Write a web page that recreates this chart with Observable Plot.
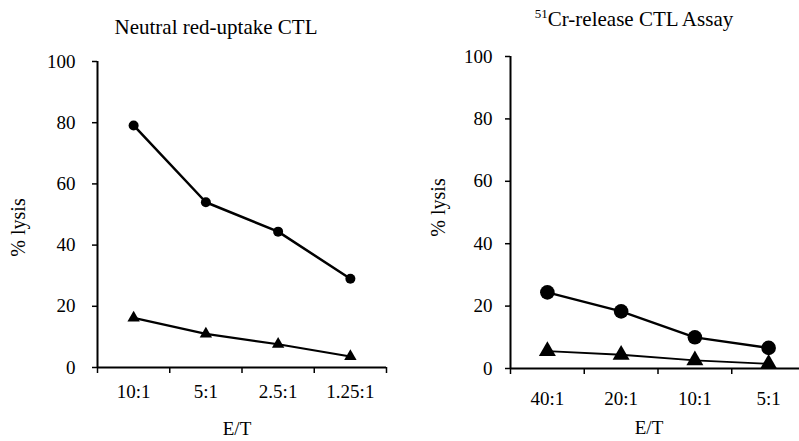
<!DOCTYPE html>
<html>
<head>
<meta charset="utf-8">
<script src="https://cdn.jsdelivr.net/npm/d3@7"></script>
<script src="https://cdn.jsdelivr.net/npm/@observablehq/plot@0.6"></script>
<style>
  body { margin: 0; background: #fff; }
  #wrap { position: relative; width: 799px; height: 441px; overflow: hidden;
          font-family: "Liberation Serif", "Times New Roman", serif; color: #000; background: #fff; }
  .panel { position: absolute; top: 0; }
  .panel svg { max-width: none !important; display: block; }
  .title { position: absolute; font-size: 21px; line-height: 21px; white-space: nowrap;
           transform: translateX(-50%); }
  .sup { font-size: 13px; position: relative; top: -8px; }
</style>
</head>
<body>
<div id="wrap">
  <div class="panel" id="left" style="left:0px; width:400px"></div>
  <div class="panel" id="right" style="left:400px; width:410px"></div>
  <div class="title" id="t1" style="left:216px; top:17px"></div>
  <div class="title" id="t2" style="left:634px; top:9px"></div>
</div>
<script>
// ---- data ----
const leftTitle = "Neutral red-uptake CTL";
const rightTitleSup = "51";
const rightTitle = "Cr-release CTL Assay";
const xLabel = "E/T";
const yLabel = "% lysis";
const yTicks = [0, 20, 40, 60, 80, 100];

const leftRatios = ["10:1", "5:1", "2.5:1", "1.25:1"];
const leftCircles = [79.1, 54.0, 44.4, 29.0];
const leftTriangles = [16.2, 11.0, 7.6, 3.6];

const rightRatios = ["40:1", "20:1", "10:1", "5:1"];
const rightCircles = [24.4, 18.3, 10.0, 6.6];
const rightTriangles = [5.6, 4.4, 2.6, 1.5];

const SERIF = "Liberation Serif, Times New Roman, serif";

document.getElementById("t1").textContent = leftTitle;
const t2 = document.getElementById("t2");
const sup = document.createElement("span");
sup.className = "sup";
sup.textContent = rightTitleSup;
t2.appendChild(sup);
t2.appendChild(document.createTextNode(rightTitle));

function panel(ratios, circles, triangles, L) {
  const n = ratios.length;
  const circ = ratios.map((r, i) => ({pos: i + 0.5, value: circles[i]}));
  const tri = ratios.map((r, i) => ({pos: i + 0.5, value: triangles[i]}));
  const edges = d3.range(n + 1);
  const centers = d3.range(n).map(i => i + 0.5);
  const svg = Plot.plot({
    width: L.width,
    height: 441,
    marginLeft: L.marginLeft,
    marginRight: L.marginRight,
    marginTop: L.marginTop,
    marginBottom: L.marginBottom,
    style: {fontFamily: SERIF, fontSize: "19px", color: "#000", background: "transparent", overflow: "visible"},
    x: {type: "linear", domain: [0, n]},
    y: {domain: [0, 100]},
    marks: [
      Plot.axisY({ticks: yTicks, tickSize: 5, tickPadding: L.yPad, label: null, fontSize: 19, fontFamily: SERIF, strokeWidth: 1.5}),
      Plot.axisX({ticks: edges, tickSize: 6, tickFormat: () => "", label: null, strokeWidth: 1.5}),
      Plot.axisX({ticks: centers, tickSize: 0, tickPadding: L.xPad, tickFormat: d => ratios[Math.floor(d)], label: null, fontSize: 19, fontFamily: SERIF}),
      Plot.ruleX([0], {stroke: "#000", strokeWidth: 2}),
      Plot.ruleY([0], {stroke: "#000", strokeWidth: 2}),
      Plot.text([xLabel], {frameAnchor: "bottom", lineAnchor: "middle", textAnchor: "middle", dx: L.xlDx, dy: L.xlDy, fontSize: 19, fontFamily: SERIF, fill: "#000"}),
      Plot.text([yLabel], {frameAnchor: "left", rotate: -90, lineAnchor: "middle", textAnchor: "middle", dx: L.ylDx, dy: L.ylDy, fontSize: 20, fontFamily: SERIF, fill: "#000"}),
      Plot.line(circ, {x: "pos", y: "value", stroke: "#000", strokeWidth: L.lw1}),
      Plot.line(tri, {x: "pos", y: "value", stroke: "#000", strokeWidth: L.lw2}),
      Plot.dot(circ, {x: "pos", y: "value", r: L.rc, fill: "#000", symbol: "circle"}),
      Plot.dot(tri, {x: "pos", y: "value", r: L.rt, fill: "#000", symbol: "triangle"})
    ]
  });
  svg.setAttribute("font-family", SERIF);
  svg.style.fontFamily = SERIF;
  svg.querySelectorAll("g, text").forEach(el => {
    if (el.getAttribute("font-family")) el.setAttribute("font-family", SERIF);
    if (el.tagName.toLowerCase() === "text") el.style.fontFamily = SERIF;
  });
  return svg;
}

document.getElementById("left").appendChild(panel(leftRatios, leftCircles, leftTriangles, {
  width: 400, marginLeft: 97, marginRight: 14, marginTop: 61, marginBottom: 74,
  yPad: 17, xPad: 17, xlDx: -5, xlDy: 61, ylDx: -79, ylDy: 13,
  lw1: 2.5, lw2: 2.2, rc: 5, rt: 4.6
}));
document.getElementById("right").appendChild(panel(rightRatios, rightCircles, rightTriangles, {
  width: 410, marginLeft: 110, marginRight: 5, marginTop: 56, marginBottom: 73,
  yPad: 13, xPad: 23, xlDx: -9, xlDy: 59, ylDx: -72, ylDy: -5,
  lw1: 2.3, lw2: 1.8, rc: 7.3, rt: 6.3
}));
</script>
</body>
</html>
